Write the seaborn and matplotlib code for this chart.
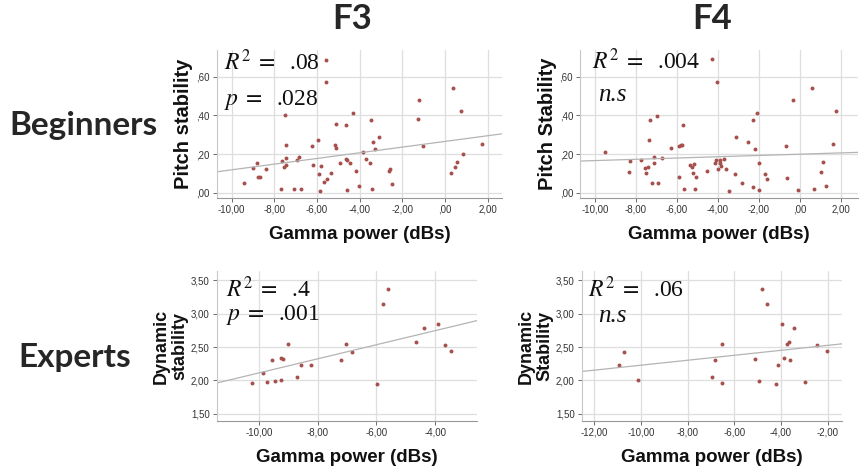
import numpy as np
import pandas as pd
import matplotlib
matplotlib.use("Agg")
import matplotlib.pyplot as plt
import seaborn as sns

# ---------------- data ----------------
# Beginners, F3
beg_f3_x = [-9.41, -9.02, -8.83, -8.78, -8.69, -8.39, -7.70, -7.66, -7.55, -7.50, -7.47, -7.44,
            -7.44, -7.06, -6.95, -6.84, -6.75, -6.23, -6.20, -5.97, -5.92, -5.84, -5.83, -5.66,
            -5.59, -5.58, -5.55, -5.33, -5.16, -5.13, -5.11, -4.94, -4.66, -4.64, -4.59, -4.59,
            -4.45, -4.30, -4.20, -4.05, -3.86, -3.72, -3.50, -3.48, -3.42, -3.36, -3.31, -3.11,
            -2.64, -2.59, -2.50, -1.27, -1.23, -1.06, 0.28, 0.36, 0.47, 0.56, 0.72, 0.84, 1.73]
beg_f3_y = [0.048, 0.128, 0.155, 0.081, 0.083, 0.124, 0.021, 0.166, 0.134, 0.400, 0.248, 0.179,
            0.145, 0.017, 0.169, 0.183, 0.017, 0.243, 0.145, 0.272, 0.095, 0.007, 0.140, 0.055,
            0.688, 0.572, 0.072, 0.100, 0.248, 0.233, 0.353, 0.152, 0.348, 0.174, 0.167, 0.016,
            0.152, 0.414, 0.112, 0.036, 0.210, 0.174, 0.153, 0.374, 0.019, 0.262, 0.226, 0.288,
            0.110, 0.124, 0.047, 0.379, 0.478, 0.241, 0.100, 0.543, 0.131, 0.160, 0.424, 0.198, 0.252]

# Beginners, F4
beg_f4_x = [-9.50, -8.36, -8.30, -7.73, -7.56, -7.51, -7.43, -7.38, -7.33, -7.19, -7.13, -7.11,
            -6.96, -6.94, -6.73, -6.29, -5.88, -5.88, -5.79, -5.73, -5.68, -5.66, -5.35, -5.28,
            -5.19, -5.16, -5.13, -5.05, -4.51, -4.26, -4.12, -4.07, -4.04, -3.97, -3.90, -3.88,
            -3.83, -3.72, -3.61, -3.47, -3.14, -3.09, -2.81, -2.54, -2.30, -2.29, -2.16, -2.10,
            -2.00, -1.97, -1.67, -1.59, -0.68, -0.63, -0.33, -0.08, 0.62, 0.69, 1.03, 1.14, 1.29,
            1.62, 1.78]
beg_f4_y = [0.210, 0.109, 0.166, 0.172, 0.129, 0.100, 0.134, 0.274, 0.374, 0.048, 0.183, 0.152,
            0.397, 0.048, 0.179, 0.233, 0.079, 0.243, 0.245, 0.248, 0.348, 0.021, 0.145, 0.134,
            0.102, 0.147, 0.019, 0.083, 0.112, 0.690, 0.155, 0.167, 0.572, 0.122, 0.152, 0.172,
            0.138, 0.174, 0.124, 0.007, 0.095, 0.288, 0.048, 0.260, 0.029, 0.378, 0.224, 0.414,
            0.016, 0.153, 0.095, 0.072, 0.241, 0.074, 0.478, 0.016, 0.543, 0.017, 0.109, 0.160, 0.036,
            0.250, 0.424]

# Experts, F3
exp_f3_x = [-10.24, -9.86, -9.73, -9.57, -9.46, -9.27, -9.26, -9.20, -9.01, -8.72, -8.59, -8.22,
            -7.22, -7.05, -6.83, -5.99, -5.79, -5.60, -4.64, -4.37, -3.89, -3.66, -3.47]
exp_f3_y = [1.955, 2.109, 1.980, 2.312, 1.995, 2.342, 2.005, 2.317, 2.545, 2.050, 2.228, 2.233,
            2.307, 2.540, 2.431, 1.946, 3.144, 3.366, 2.569, 2.782, 2.851, 2.535, 2.446]

# Experts, F4
exp_f4_x = [-10.96, -10.73, -10.14, -6.97, -6.81, -6.54, -6.53, -5.11, -4.94, -4.81, -4.61, -4.20,
            -4.13, -3.96, -3.87, -3.73, -3.66, -3.63, -3.43, -2.96, -2.47, -2.01]
exp_f4_y = [2.228, 2.431, 2.005, 2.050, 2.312, 2.545, 1.960, 2.317, 1.995, 3.371, 3.144, 1.950,
            2.233, 2.851, 2.342, 2.540, 2.569, 2.307, 2.782, 1.980, 2.535, 2.446]

col_titles = ["F3", "F4"]
row_titles = ["Beginners", "Experts"]
x_label = "Gamma power (dBs)"
y_labels = ["Pitch stability", "Pitch Stability", "Dynamic\nstability", "Dynamic\nStability"]
stats_r2 = [".08", ".004", ".4", ".06"]
stats_p = [".028", None, ".001", None]

beg_xticks = [-10, -8, -6, -4, -2, 0, 2]
beg_xticklabels = ["-10,00", "-8,00", "-6,00", "-4,00", "-2,00", ",00", "2,00"]
beg_yticks = [0.0, 0.2, 0.4, 0.6]
beg_yticklabels = [",00", ",20", ",40", ",60"]
exp3_xticks = [-10, -8, -6, -4]
exp3_xticklabels = ["-10,00", "-8,00", "-6,00", "-4,00"]
exp4_xticks = [-12, -10, -8, -6, -4, -2]
exp4_xticklabels = ["-12,00", "-10,00", "-8,00", "-6,00", "-4,00", "-2,00"]
exp_yticks = [1.5, 2.0, 2.5, 3.0, 3.5]
exp_yticklabels = ["1,50", "2,00", "2,50", "3,00", "3,50"]

# ---------------- style ----------------
sns.set_theme(style="white")
plt.rcParams["mathtext.fontset"] = "stix"
plt.rcParams["font.family"] = ["Liberation Sans", "DejaVu Sans"]

W, H = 860, 467
fig = plt.figure(figsize=(W / 100, H / 100), dpi=100)


def fx(x):
    return x / W


def fy(y):
    return 1 - y / H


def add_ax(left, top, right, bottom):
    return fig.add_axes([fx(left), fy(bottom), fx(right) - fx(left), fy(top) - fy(bottom)])


dot_color = "#a5504d"
line_color = "#b4b4b4"
grid_color = "#dedede"

panels = [
    dict(box=(216.7, 50, 502, 198), x=beg_f3_x, y=beg_f3_y, xlim=(-10.70, 2.66), ylim=(-0.027, 0.738),
         xt=beg_xticks, xtl=beg_xticklabels, yt=beg_yticks, ytl=beg_yticklabels, yfs=14.5),
    dict(box=(580, 50, 858, 198), x=beg_f4_x, y=beg_f4_y, xlim=(-10.73, 2.85), ylim=(-0.027, 0.738),
         xt=beg_xticks, xtl=beg_xticklabels, yt=beg_yticks, ytl=beg_yticklabels, yfs=14.5),
    dict(box=(216.7, 271, 477, 421), x=exp_f3_x, y=exp_f3_y, xlim=(-11.45, -2.57), ylim=(1.393, 3.64),
         xt=exp3_xticks, xtl=exp3_xticklabels, yt=exp_yticks, ytl=exp_yticklabels, yfs=13),
    dict(box=(581.7, 271, 841.7, 421), x=exp_f4_x, y=exp_f4_y, xlim=(-12.54, -1.40), ylim=(1.393, 3.64),
         xt=exp4_xticks, xtl=exp4_xticklabels, yt=exp_yticks, ytl=exp_yticklabels, yfs=13),
]

for i, p in enumerate(panels):
    ax = add_ax(*p["box"])
    ax.set_xlim(*p["xlim"])
    ax.set_ylim(*p["ylim"])
    df = pd.DataFrame({"x": p["x"], "y": p["y"]})
    sns.regplot(data=df, x="x", y="y", ax=ax, ci=None, truncate=False,
                scatter_kws=dict(s=8, color=dot_color, linewidths=0, alpha=1),
                line_kws=dict(color=line_color, lw=0.9))
    ax.set_xlim(*p["xlim"])
    ax.set_ylim(*p["ylim"])
    ax.set_xticks(p["xt"])
    ax.set_xticklabels(p["xtl"])
    ax.set_yticks(p["yt"])
    ax.set_yticklabels(p["ytl"])
    ax.tick_params(axis="both", labelsize=7, colors="#555555", labelcolor="#333333",
                   length=3, width=0.6, pad=2, bottom=True, left=True)
    ax.grid(True, color=grid_color, lw=0.9)
    ax.set_axisbelow(True)
    for s in ["top", "right"]:
        ax.spines[s].set_visible(False)
    ax.spines["left"].set_color("#c8c8c8")
    ax.spines["bottom"].set_color("#999999")
    ax.spines["left"].set_linewidth(0.8)
    ax.spines["bottom"].set_linewidth(0.8)
    ax.set_xlabel(x_label, fontsize=13.5, fontweight="bold", color="#111111", labelpad=8)
    ax.set_ylabel(y_labels[i], fontsize=p["yfs"], fontweight="bold", color="#111111", labelpad=2,
                  linespacing=1.15)

# statistics annotations
serif = ["Liberation Serif", "DejaVu Serif"]
stat_pos = [((224, 62), (224, 100)), ((592, 61), (598, 95)),
            ((226, 289), (226, 315)), ((588, 289), (598, 316))]
for i, ((rx, ry), (px_, py_)) in enumerate(stat_pos):
    fig.text(fx(rx), fy(ry), r"$R^2\;=\;$ " + stats_r2[i], fontsize=17, ha="left", va="center",
             color="#111111", family=serif)
    if stats_p[i] is None:
        fig.text(fx(px_), fy(py_), "n.s", fontsize=18, ha="left", va="center",
                 color="#111111", family=serif, style="italic")
    else:
        fig.text(fx(px_), fy(py_), r"$p\;=\;$ " + stats_p[i], fontsize=17, ha="left", va="center",
                 color="#111111", family=serif)

# column / row titles
title_font = ["Lato", "DejaVu Sans"]
fig.text(fx(352), fy(19), col_titles[0], fontsize=25, fontweight="bold", ha="center", va="center",
         family=title_font)
fig.text(fx(712), fy(19), col_titles[1], fontsize=25, fontweight="bold", ha="center", va="center",
         family=title_font)
fig.text(fx(84), fy(126), row_titles[0], fontsize=24, fontweight="bold", ha="center", va="center",
         family=title_font)
fig.text(fx(75), fy(357), row_titles[1], fontsize=24, fontweight="bold", ha="center", va="center",
         family=title_font)

fig.savefig("out.png", dpi=100)
